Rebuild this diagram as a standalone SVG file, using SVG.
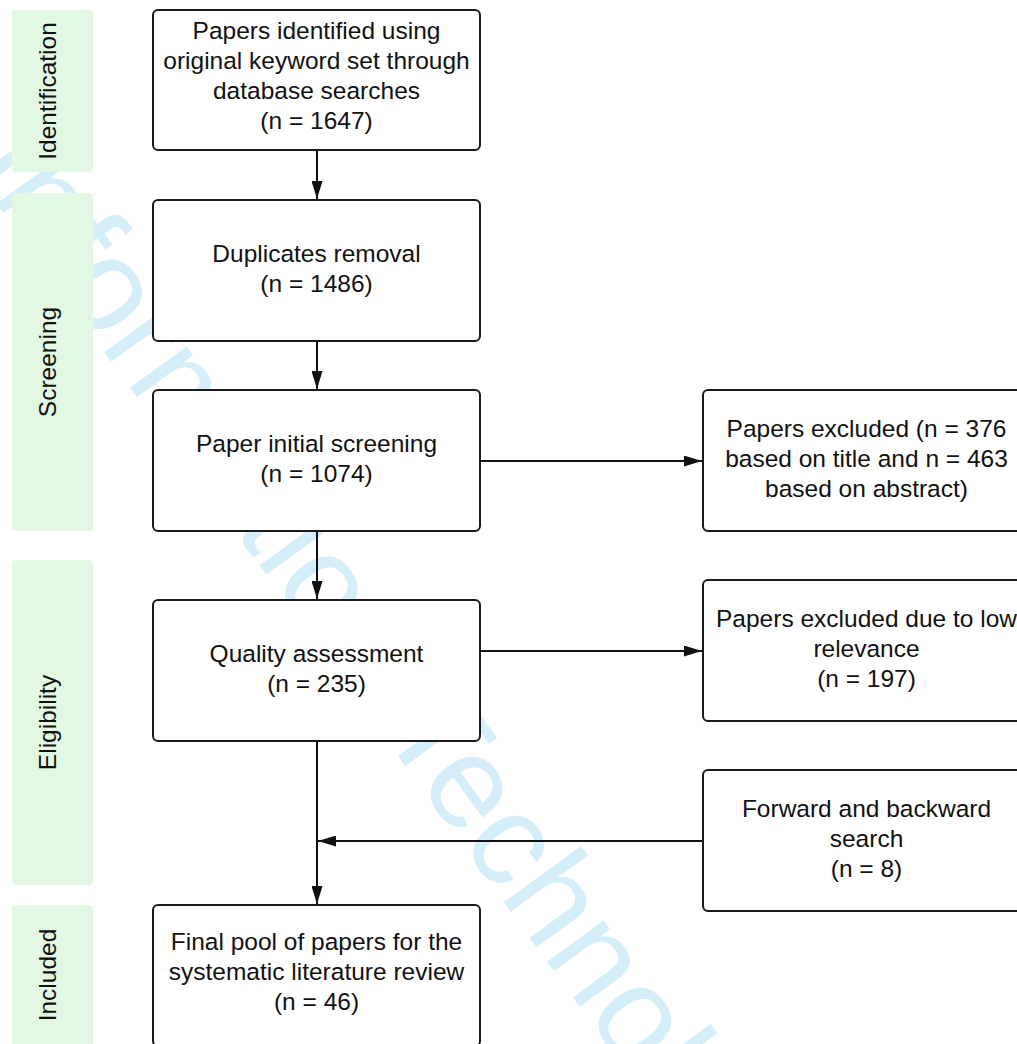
<svg xmlns="http://www.w3.org/2000/svg" width="1017" height="1044" viewBox="0 0 1017 1044">
<defs>
<style>
.wm{font-family:"Liberation Sans",Arial,sans-serif;font-size:132px;fill:#d4eefa}
.band{fill:#e3f8e3}
.box{fill:#fff;stroke:#1a1a1a;stroke-width:2}
.lbl{font-family:"Liberation Sans",Arial,sans-serif;font-size:24.5px;fill:#111;text-anchor:middle}
.con{fill:none;stroke:#111;stroke-width:2}
</style>
<marker id="arr" markerUnits="userSpaceOnUse" markerWidth="18" markerHeight="11" refX="18" refY="5.5" orient="auto">
<path d="M0,0 L18,5.5 L0,11 z" fill="#111"/>
</marker>
</defs>
<rect width="1017" height="1044" fill="#fff"/>
<text class="wm" transform="translate(-30.4 166.6) rotate(54)">Information Technology</text>

<g id="stage-identification">
<rect class="band" x="12" y="10" width="81" height="162" rx="4"/>
<text class="lbl" transform="translate(56 91) rotate(-90)">Identification</text>
</g>
<g id="stage-screening">
<rect class="band" x="12" y="193" width="81" height="338" rx="4"/>
<text class="lbl" transform="translate(56 362) rotate(-90)">Screening</text>
</g>
<g id="stage-eligibility">
<rect class="band" x="12" y="560" width="81" height="325" rx="4"/>
<text class="lbl" transform="translate(56 722.5) rotate(-90)">Eligibility</text>
</g>
<g id="stage-included">
<rect class="band" x="12" y="905" width="81" height="142" rx="4"/>
<text class="lbl" transform="translate(56 975) rotate(-90)">Included</text>
</g>

<g id="connectors">
<path class="con" d="M317,150 V199" marker-end="url(#arr)"/>
<path class="con" d="M317,341 V389" marker-end="url(#arr)"/>
<path class="con" d="M317,531 V599" marker-end="url(#arr)"/>
<path class="con" d="M480,461 H702" marker-end="url(#arr)"/>
<path class="con" d="M480,651 H702" marker-end="url(#arr)"/>
<path class="con" d="M703,841 H318" marker-end="url(#arr)"/>
<path class="con" d="M317,741 V904" marker-end="url(#arr)"/>
</g>

<g id="identified">
<rect class="box" x="153" y="10" width="327" height="140" rx="5"/>
<text class="lbl" x="316.5" y="38.5">Papers identified using</text>
<text class="lbl" x="316.5" y="68.5">original keyword set through</text>
<text class="lbl" x="316.5" y="98.5">database searches</text>
<text class="lbl" x="316.5" y="128.5">(n = 1647)</text>
</g>
<g id="duplicates">
<rect class="box" x="153" y="200" width="327" height="141" rx="5"/>
<text class="lbl" x="316.5" y="262">Duplicates removal</text>
<text class="lbl" x="316.5" y="292">(n = 1486)</text>
</g>
<g id="initial-screening">
<rect class="box" x="153" y="390" width="327" height="141" rx="5"/>
<text class="lbl" x="316.5" y="452">Paper initial screening</text>
<text class="lbl" x="316.5" y="482">(n = 1074)</text>
</g>
<g id="quality">
<rect class="box" x="153" y="600" width="327" height="141" rx="5"/>
<text class="lbl" x="316.5" y="662">Quality assessment</text>
<text class="lbl" x="316.5" y="692">(n = 235)</text>
</g>
<g id="final-pool">
<rect class="box" x="153" y="905" width="327" height="141" rx="5"/>
<text class="lbl" x="316.5" y="950">Final pool of papers for the</text>
<text class="lbl" x="316.5" y="980">systematic literature review</text>
<text class="lbl" x="316.5" y="1010">(n = 46)</text>
</g>
<g id="excluded-title-abstract">
<rect class="box" x="703" y="390" width="327" height="141" rx="5"/>
<text class="lbl" x="866.5" y="437">Papers excluded (n = 376</text>
<text class="lbl" x="866.5" y="467">based on title and n = 463</text>
<text class="lbl" x="866.5" y="497">based on abstract)</text>
</g>
<g id="excluded-relevance">
<rect class="box" x="703" y="580" width="327" height="141" rx="5"/>
<text class="lbl" x="866.5" y="627">Papers excluded due to low</text>
<text class="lbl" x="866.5" y="657">relevance</text>
<text class="lbl" x="866.5" y="687">(n = 197)</text>
</g>
<g id="forward-backward">
<rect class="box" x="703" y="770" width="327" height="141" rx="5"/>
<text class="lbl" x="866.5" y="817">Forward and backward</text>
<text class="lbl" x="866.5" y="847">search</text>
<text class="lbl" x="866.5" y="877">(n = 8)</text>
</g>
</svg>
